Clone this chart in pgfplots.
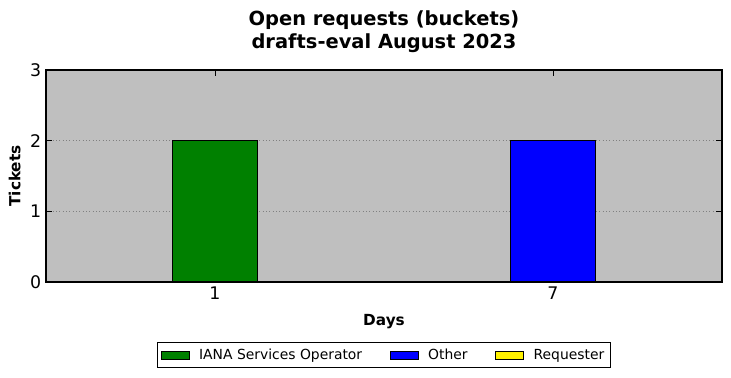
\documentclass[border=0pt]{standalone}
\usepackage{pgfplots}
\pgfplotsset{compat=1.18}
\usepackage{fontspec}
\setmainfont{DejaVu Sans}
\usetikzlibrary{calc}
\definecolor{bgray}{HTML}{BFBFBF}
\definecolor{mgreen}{HTML}{008000}
\begin{document}
\begin{tikzpicture}
\begin{axis}[
  name=ax,
  scale only axis,
  width=486.72pt, height=152.64pt,
  axis background/.style={fill=bgray},
  ybar stacked,
  bar width=0.25,
  xmin=-0.5, xmax=1.5,
  ymin=0, ymax=3,
  xtick={0,1}, xticklabels={1,7},
  ytick={0,1,2,3},
  tick align=inside,
  xtick pos=both, ytick pos=both,
  major tick length=4pt,
  tick style={black, line width=0.6pt},
  ymajorgrids,
  grid style={gray, dotted, line width=0.5pt},
  axis line style={black, line width=0.8pt},
  ticklabel style={font=\fontsize{12.5}{14}\selectfont},
  /pgf/number format/assume math mode=true,
  xlabel={\textbf{Days}},
  ylabel={\textbf{Tickets}},
  xlabel style={font=\fontsize{11}{13}\selectfont, at={(0.5,-0.205)}, anchor=base},
  ylabel style={font=\fontsize{11}{13}\selectfont},
  title style={font=\fontsize{14}{16.5}\selectfont\bfseries, align=center, yshift=3pt},
  title={Open requests (buckets)\\drafts-eval August 2023},
  legend style={at={(0.5,-0.345)}, anchor=center, legend columns=3, draw=black, line width=0.6pt,
    font=\fontsize{10}{12}\selectfont,
    /tikz/every odd column/.append style={column sep=5pt},
    /tikz/every even column/.append style={column sep=18pt},
    inner sep=2.5pt},
  legend image code/.code={\draw[#1, line width=0.6pt] (0cm,-0.1cm) rectangle (0.7cm,0.1cm);},
  every axis plot/.append style={draw=black, line width=0.8pt},
]
\addplot[fill=mgreen] coordinates {(0,2) (1,0)};
\addplot[fill=blue] coordinates {(0,0) (1,2)};
\addplot[fill=yellow] coordinates {(0,0) (1,0)};
\legend{IANA Services Operator, Other, Requester}
\end{axis}
\pgfresetboundingbox
\path[use as bounding box] ($(ax.south west)+(-33.12pt,-69.12pt)$) rectangle ($(ax.north east)+(6.48pt,50.4pt)$);
\end{tikzpicture}
\end{document}
